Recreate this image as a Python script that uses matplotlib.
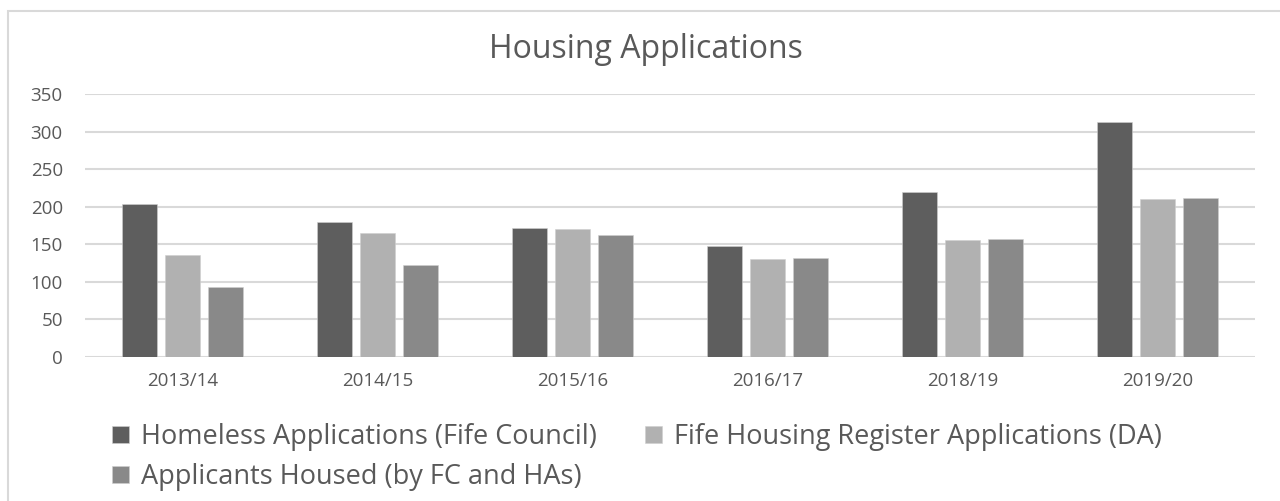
#!/usr/bin/env python3

import numpy as np
import matplotlib
matplotlib.use("Agg")
import matplotlib.pyplot as plt
from matplotlib.patches import Rectangle


YEARS = ["2013/14", "2014/15", "2015/16", "2016/17", "2018/19", "2019/20"]

HOMELESS = [203, 180, 172, 148, 220, 313]
REGISTER = [136, 165, 170, 130, 156, 210]
HOUSED = [93, 123, 163, 132, 157, 212]

SERIES_LABELS = [
    "Homeless Applications (Fife Council)",
    "Fife Housing Register Applications (DA)",
    "Applicants Housed (by FC and HAs)",
]

COLOURS = ["#5e5e5e", "#b1b1b1", "#898989"]
TEXT_COLOUR = "#595959"

plt.rcParams["font.family"] = ["Open Sans", "DejaVu Sans"]

figure = plt.figure(figsize=(12.8, 5.01), dpi=100)

# Light frame around the chart area, like the Excel chart border.
figure.patches.append(
    Rectangle(
        (8 / 1280, -0.01),
        1.2,
        1 - 11 / 501 + 0.01,
        transform=figure.transFigure,
        fill=False,
        edgecolor="#d9d9d9",
        linewidth=1.5,
    )
)

axis = figure.add_axes([85 / 1280, 1 - 357 / 501, 1170 / 1280, 263 / 501])

x = np.arange(len(YEARS))
width = 0.18
pitch = 0.22

handles = []
for offset, values, colour, label in zip(
    (-pitch, 0, pitch),
    (HOMELESS, REGISTER, HOUSED),
    COLOURS,
    SERIES_LABELS,
):
    bars = axis.bar(
        x + offset,
        values,
        width=width,
        color=colour,
        edgecolor="#cfcfcf",
        linewidth=0.4,
        label=label,
        zorder=3,
    )
    handles.append(bars)

axis.set_xlim(-0.5, len(YEARS) - 0.5)
axis.set_ylim(0, 350)
axis.set_yticks(range(0, 351, 50))
axis.set_xticks(x)
axis.set_xticklabels(YEARS)

axis.grid(axis="y", color="#d9d9d9", linewidth=1.5, zorder=0)
axis.set_axisbelow(True)
for side in ("top", "right", "left", "bottom"):
    axis.spines[side].set_visible(False)

axis.tick_params(axis="both", length=0, colors=TEXT_COLOUR, labelsize=13.5)
axis.tick_params(axis="x", pad=11)
axis.tick_params(axis="y", pad=16)

figure.text(
    646 / 1280,
    1 - 50 / 501,
    "Housing Applications",
    ha="center",
    va="center",
    fontsize=23,
    color=TEXT_COLOUR,
)

# Reorder so the legend fills row by row: two on top, one below.
legend = figure.legend(
    [handles[0], handles[2], handles[1]],
    [SERIES_LABELS[0], SERIES_LABELS[2], SERIES_LABELS[1]],
    ncol=2,
    loc="upper left",
    bbox_to_anchor=(88 / 1280, 1 - 399 / 501),
    frameon=False,
    fontsize=19.5,
    labelcolor=TEXT_COLOUR,
    handlelength=0.6,
    handleheight=0.6,
    handletextpad=0.45,
    columnspacing=1.8,
    labelspacing=0.42,
)

figure.savefig("out.png", dpi=100)
